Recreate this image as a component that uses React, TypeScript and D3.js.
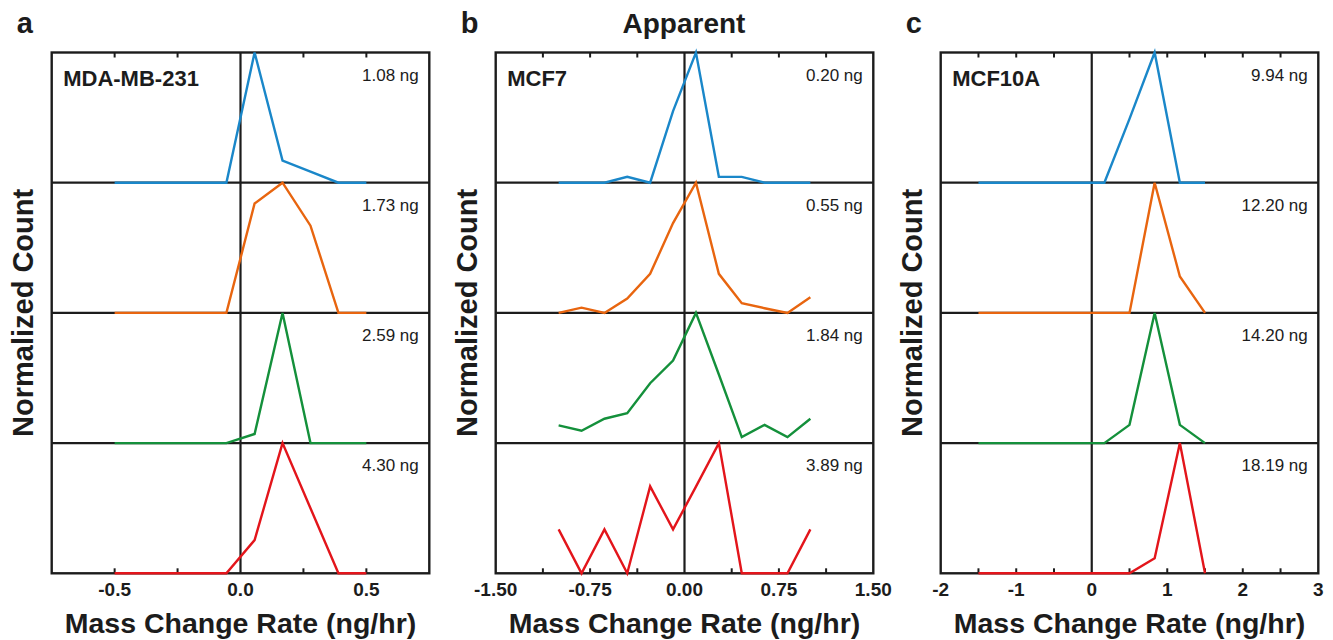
import * as d3 from "d3";

// bin centres (ng/hr)
const binsA = [-0.5, -0.389, -0.278, -0.167, -0.056, 0.056, 0.167, 0.278, 0.389, 0.5];
const binsB = [-1.0, -0.818, -0.636, -0.455, -0.273, -0.091, 0.091, 0.273, 0.455, 0.636, 0.818, 1.0];
const binsC = [-1.5, -1.167, -0.833, -0.5, -0.167, 0.167, 0.5, 0.833, 1.167, 1.5];

// MDA-MB-231
const mdaBlue = [0, 0, 0, 0, 0, 1, 0.17, 0.085, 0, 0];
const mdaOrange = [0, 0, 0, 0, 0, 0.84, 1, 0.67, 0, 0];
const mdaGreen = [0, 0, 0, 0, 0, 0.07, 1, 0, 0, 0];
const mdaRed = [0, 0, 0, 0, 0, 0.255, 1, 0.5, 0, 0];
const mdaMass = ["1.08 ng", "1.73 ng", "2.59 ng", "4.30 ng"];

// MCF7
const mcf7Blue = [0, 0, 0, 0.045, 0, 0.55, 1, 0.045, 0.045, 0, 0, 0];
const mcf7Orange = [0, 0.04, 0, 0.11, 0.3, 0.69, 1, 0.3, 0.075, 0.036, 0, 0.12];
const mcf7Green = [0.136, 0.095, 0.187, 0.23, 0.46, 0.634, 1, 0.527, 0.046, 0.14, 0.046, 0.187];
const mcf7Red = [0.337, 0, 0.337, 0, 0.668, 0.337, 0.666, 1, 0, 0, 0, 0.337];
const mcf7Mass = ["0.20 ng", "0.55 ng", "1.84 ng", "3.89 ng"];

// MCF10A
const mcf10Blue = [0, 0, 0, 0, 0, 0, 0.49, 1, 0, 0];
const mcf10Orange = [0, 0, 0, 0, 0, 0, 0, 1, 0.28, 0];
const mcf10Green = [0, 0, 0, 0, 0, 0, 0.14, 1, 0.14, 0];
const mcf10Red = [0, 0, 0, 0, 0, 0, 0, 0.115, 1, 0];
const mcf10Mass = ["9.94 ng", "12.20 ng", "14.20 ng", "18.19 ng"];

const ticksA = [-0.5, -0.25, 0.25, 0.5];
const labelsA = [[-0.5, "-0.5"], [0, "0.0"], [0.5, "0.5"]];
const ticksB = [-1.125, -0.75, -0.375, 0.375, 0.75, 1.125];
const labelsB = [[-1.5, "-1.50"], [-0.75, "-0.75"], [0, "0.00"], [0.75, "0.75"], [1.5, "1.50"]];
const ticksC = [-1.5, -1, -0.5, 0.5, 1, 1.5, 2, 2.5];
const labelsC = [[-2, "-2"], [-1, "-1"], [0, "0"], [1, "1"], [2, "2"], [3, "3"]];

const colors = ["#1a87c9", "#e8650f", "#14903b", "#e3151b"];
const font = "'Liberation Sans', Arial, sans-serif";
const ink = "#1c1c1c";

const panels = [
  { letter: "a", name: "MDA-MB-231", left: 51.7, domain: [-0.75, 0.75], bins: binsA,
    series: [mdaBlue, mdaOrange, mdaGreen, mdaRed], mass: mdaMass, ticks: ticksA, labels: labelsA },
  { letter: "b", name: "MCF7", left: 495.7, domain: [-1.5, 1.5], bins: binsB,
    series: [mcf7Blue, mcf7Orange, mcf7Green, mcf7Red], mass: mcf7Mass, ticks: ticksB, labels: labelsB },
  { letter: "c", name: "MCF10A", left: 940.7, domain: [-2, 3], bins: binsC,
    series: [mcf10Blue, mcf10Orange, mcf10Green, mcf10Red], mass: mcf10Mass, ticks: ticksC, labels: labelsC },
];

const W = 1333, H = 640;
const pw = 377.6;
const top = 52.5;
const rowH = 130.2;
const bottom = top + rowH * 4;

function Panel({ p }: { p: any }) {
  const x = d3.scaleLinear().domain(p.domain).range([p.left, p.left + pw]);
  const right = p.left + pw;
  return (
    <g>
      <text x={p.left - 35} y={33} fontFamily={font} fontWeight="bold" fontSize={29} fill={ink}>
        {p.letter}
      </text>
      <text
        transform={`translate(${p.left - 19},${(top + bottom) / 2}) rotate(-90)`}
        textAnchor="middle" fontFamily={font} fontWeight="bold" fontSize={29} fill={ink}>
        Normalized Count
      </text>
      {[1, 2, 3].map((i) => (
        <line key={i} x1={p.left} x2={right} y1={top + rowH * i} y2={top + rowH * i} stroke={ink} strokeWidth={2.2} />
      ))}
      <line x1={x(0)} x2={x(0)} y1={top} y2={bottom} stroke={ink} strokeWidth={2.2} />
      {p.ticks.map((t: number) => (
        <g key={t}>
          <line x1={x(t)} x2={x(t)} y1={top} y2={top + 5} stroke={ink} strokeWidth={2} />
          <line x1={x(t)} x2={x(t)} y1={bottom} y2={bottom - 5} stroke={ink} strokeWidth={2} />
        </g>
      ))}
      <rect x={p.left} y={top} width={pw} height={bottom - top} fill="none" stroke={ink} strokeWidth={2.4} />
      {p.series.map((vals: number[], i: number) => {
        const y0 = top + rowH * i;
        const y = d3.scaleLinear().domain([0, 1]).range([y0 + rowH, y0]);
        const line = d3.line<number>().x((_, j) => x(p.bins[j])).y((d) => y(d));
        return (
          <g key={i}>
            <path d={line(vals) || ""} fill="none" stroke={colors[i]} strokeWidth={2.4} />
            <text x={right - 10.5} y={y0 + 28} textAnchor="end" fontFamily={font} fontSize={17} fill={ink}>
              {p.mass[i]}
            </text>
          </g>
        );
      })}
      <text x={p.left + 11.5} y={top + 33} fontFamily={font} fontWeight="bold" fontSize={22} fill={ink}>
        {p.name}
      </text>
      {p.labels.map(([v, s]: [number, string]) => (
        <text key={s} x={x(v)} y={596} textAnchor="middle" fontFamily={font} fontWeight="bold" fontSize={19} fill={ink}>
          {s}
        </text>
      ))}
      <text x={p.left + pw / 2} y={633} textAnchor="middle" fontFamily={font} fontWeight="bold" fontSize={28.5} fill={ink}>
        Mass Change Rate (ng/hr)
      </text>
    </g>
  );
}

export default function App() {
  return (
    <svg width={W} height={H} style={{ position: "absolute", left: 0, top: 0, background: "#fff" }}>
      <rect width={W} height={H} fill="#fff" />
      <text x={684} y={33} textAnchor="middle" fontFamily={font} fontWeight="bold" fontSize={28} fill={ink}>
        Apparent
      </text>
      {panels.map((p) => (
        <Panel key={p.letter} p={p} />
      ))}
    </svg>
  );
}
